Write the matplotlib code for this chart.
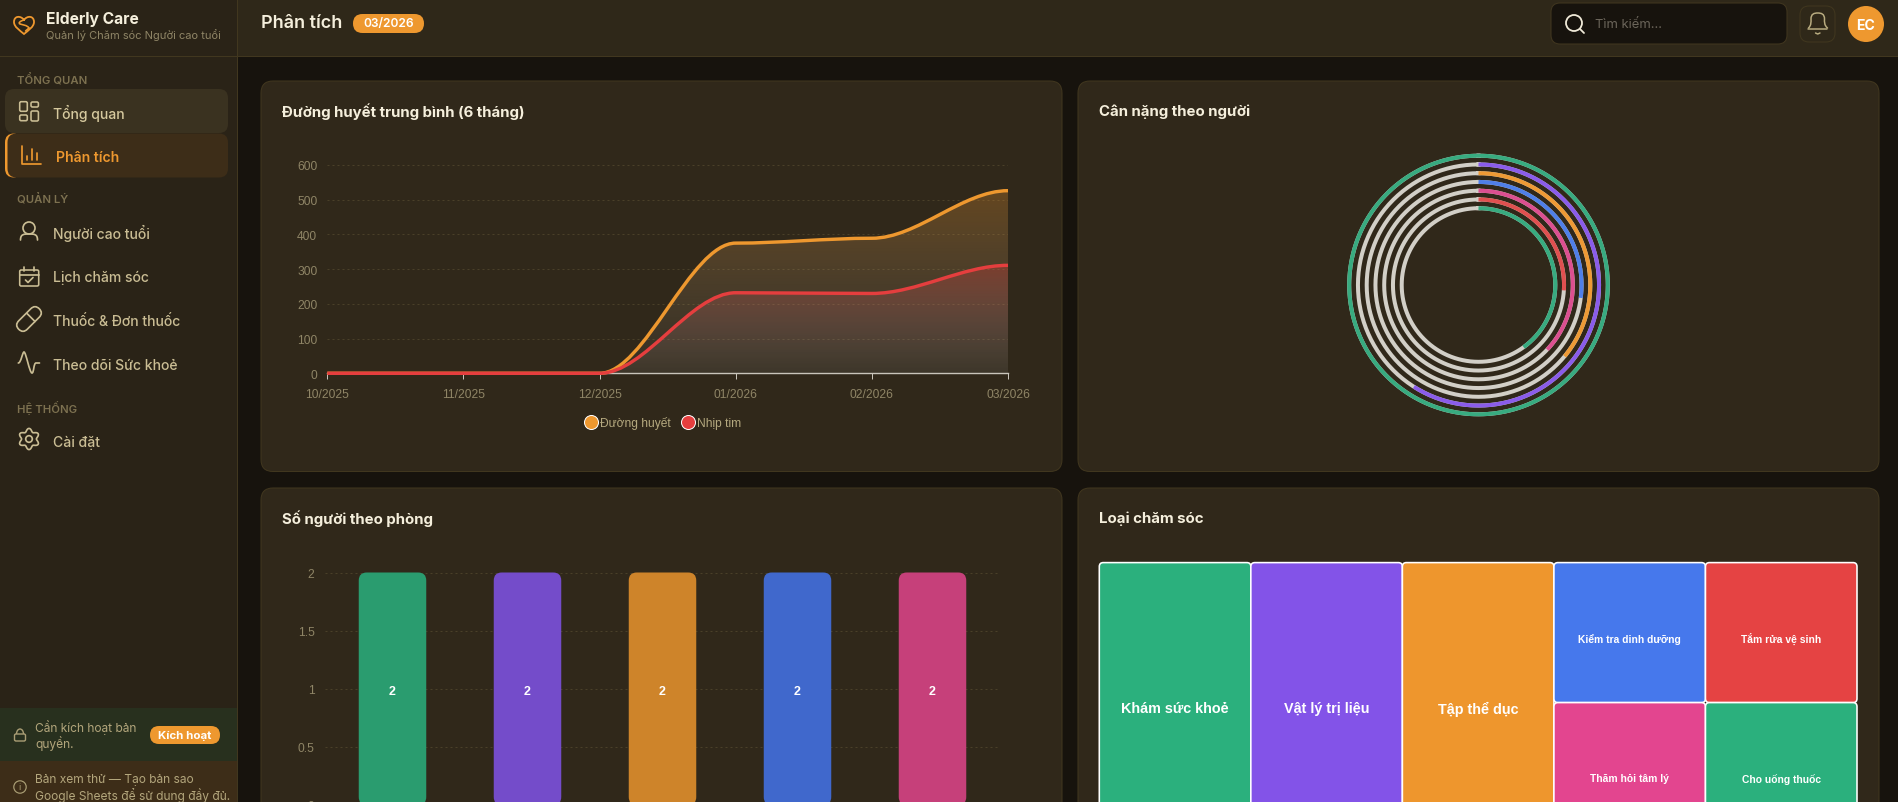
#!/usr/bin/env python3
# -*- coding: utf-8 -*-
import numpy as np
import matplotlib
matplotlib.use("Agg")
import matplotlib.pyplot as plt
from matplotlib.lines import Line2D
from matplotlib.patches import Circle, FancyBboxPatch, PathPatch, Arc, Polygon
from matplotlib.path import Path
from matplotlib.transforms import Affine2D

W, H = 1898, 803
PX = 0.72  # 1 px in pt at dpi 100

# line chart
months = ["10/2025", "11/2025", "12/2025", "01/2026", "02/2026", "03/2026"]
glucose = [0, 0, 0, 375, 389, 526]
heart_rate = [0, 0, 0, 232, 230, 311]
line_yticks = [0, 100, 200, 300, 400, 500, 600]

# radial chart, outer ring first, percent of the full circle
weight_pct = [100, 59, 36, 27, 37, 26, 40]
weight_colors = ["#38ab80", "#8a5cea", "#ee9a35", "#4f7fe8", "#dc4f90", "#e05050", "#38ab80"]

# bars
room_counts = [2, 2, 2, 2, 2]
room_colors = ["#2a9c6f", "#744cca", "#ce842a", "#4068cc", "#c6407a"]
bar_yticks = [0, 0.5, 1, 1.5, 2]

# treemap
care_types = ["Khám sức khoẻ", "Vật lý trị liệu", "Tập thể dục", "Kiểm tra dinh dưỡng",
              "Thăm hỏi tâm lý", "Tắm rửa vệ sinh", "Cho uống thuốc"]
care_counts = [2, 2, 2, 1, 1, 1, 1]
care_colors = ["#2bb07d", "#8353e8", "#ee962d", "#4678ec", "#e3458f", "#e54343", "#2bb07d"]

PAGE = "#17130d"
SIDE = "#2a2317"
HEAD = "#2f2819"
CARD = "#30281a"
EDGE = "#41371f"
ORANGE = "#ee982f"
RED = "#e53e3e"
NAV = "#cabd94"
MUTED = "#8f8566"
SECTION = "#7d7150"
TITLE = "#f5efdc"
CHART_FONT = ["Liberation Sans", "DejaVu Sans"]

plt.rcParams["font.family"] = ["Inter", "Noto Sans", "DejaVu Sans"]

fig = plt.figure(figsize=(W / 100, H / 100), dpi=100, facecolor=PAGE)
bg = fig.add_axes([0, 0, 1, 1])
bg.set_xlim(0, W)
bg.set_ylim(H, 0)
bg.axis("off")


def box(x0, y0, x1, y1, fc, ec="none", r=0, lw=1, z=1):
    style = f"round,pad=0,rounding_size={r}" if r else "square,pad=0"
    bg.add_patch(FancyBboxPatch((x0, y0), x1 - x0, y1 - y0, boxstyle=style, fc=fc, ec=ec,
                                lw=lw * PX, zorder=z))


def label(x, y, s, px, color, weight="normal", ha="left", family=None):
    kw = {"family": family} if family else {}
    bg.text(x, y, s, fontsize=px * PX, color=color, fontweight=weight, ha=ha, va="center",
            zorder=5, **kw)


def stroke(xs, ys, color=NAV, lw=1.7):
    bg.plot(xs, ys, color=color, lw=lw * PX, solid_capstyle="round", solid_joinstyle="round", zorder=4)


def ring(x, y, r, color=NAV, lw=1.7):
    bg.add_patch(Circle((x, y), r, fc="none", ec=color, lw=lw * PX, zorder=4))


def curve(verts, color=NAV, lw=1.7):
    codes = [Path.MOVETO] + [Path.CURVE4] * (len(verts) - 1)
    bg.add_patch(PathPatch(Path(verts, codes), fc="none", ec=color, lw=lw * PX, capstyle="round", zorder=4))


def outline(x0, y0, x1, y1, r=1.5, color=NAV, lw=1.6):
    box(x0, y0, x1, y1, "none", ec=color, r=r, lw=lw, z=4)


# page frame
box(0, 0, 237, H, SIDE)
box(0, 0, W, 57, HEAD)
box(0, 0, 237, 57, SIDE)
bg.plot([237, 237], [0, H], color=EDGE, lw=PX, zorder=2)
bg.plot([0, W], [57, 57], color=EDGE, lw=PX, zorder=2)

# brand
curve([(24, 21), (21, 16.5), (14, 16.5), (14, 23), (14, 28), (20, 31.5), (24, 35),
       (28, 31.5), (34, 28), (34, 23), (34, 16.5), (27, 16.5), (24, 21)], ORANGE, 1.8)
curve([(24, 21), (20, 22), (18, 24), (20, 25), (23, 26), (27, 26), (29, 29)], ORANGE, 1.6)
stroke([29, 25.5], [29, 32], ORANGE, 1.6)
label(46, 19.5, "Elderly Care", 15.6, TITLE, "bold")
label(46, 35, "Quản lý Chăm sóc Người cao tuổi", 11.1, MUTED)

# menu
box(5, 90, 228, 134, "#3a3220", r=9)
box(5, 134.5, 22, 178.5, ORANGE, r=9, z=1.1)
box(7.5, 134.5, 228, 178.5, "#3d2d18", r=9, z=1.2)
label(17, 80, "TỔNG QUAN", 11.3, SECTION, "semibold")
label(17, 200, "QUẢN LÝ", 11.3, SECTION, "semibold")
label(17, 408, "HỆ THỐNG", 11.3, SECTION, "semibold")
label(53, 113, "Tổng quan", 14, "#d6c99e", "medium")
label(56, 158, "Phân tích", 14, ORANGE, "semibold")
label(53, 233, "Người cao tuổi", 14, NAV, "medium")
label(53, 277.5, "Lịch chăm sóc", 14, NAV, "medium")
label(53, 322, "Thuốc & Đơn thuốc", 14, NAV, "medium")
label(53, 366, "Theo dõi Sức khoẻ", 14, NAV, "medium")
label(53, 442.5, "Cài đặt", 14, NAV, "medium")

# menu icons
for a in [(19.7, 102.7, 27.3, 112.3), (31, 103, 38.4, 108), (19.7, 116, 27.3, 121.7), (31, 112, 38.4, 122)]:
    outline(*a)
stroke([22.5, 22.5, 41.5], [147, 165, 165], ORANGE)
for x, top in [(27, 157), (32, 150), (37.5, 154)]:
    stroke([x, x], [top, 161], ORANGE)
ring(29, 229, 6)
curve([(20.5, 241), (20.5, 235), (24, 235), (29, 235), (34, 235), (37.5, 235), (37.5, 241)])
outline(19.7, 271, 38.7, 287)
stroke([19.7, 38.7], [275.5, 275.5])
stroke([24.5, 24.5], [268, 272])
stroke([34, 34], [268, 272])
stroke([25.5, 28, 33], [281, 283.5, 278.5])
bg.add_patch(FancyBboxPatch((14.5, 314), 29, 12, boxstyle="round,pad=0,rounding_size=6", fc="none", ec=NAV,
                            lw=1.7 * PX, zorder=4,
                            transform=Affine2D().rotate_deg_around(29, 320, -45) + bg.transData))
stroke([27, 35], [314.5, 322.5])
curve([(18.3, 364), (21, 364), (22.5, 353), (24, 353), (26, 353), (29.5, 374), (32, 374),
       (34, 374), (33.5, 364), (36, 364), (37, 364), (38.5, 364), (39.5, 364)])
theta = np.linspace(0, 2 * np.pi, 73)
gear_r = 9 + 1.6 * np.cos(6 * (theta + np.pi / 2))
bg.add_patch(Polygon(np.c_[29 + gear_r * np.cos(theta), 440 + gear_r * np.sin(theta)], closed=True, fc="none",
                     ec=NAV, lw=1.7 * PX, joinstyle="round", zorder=4))
ring(29, 440, 3.3)

# licence notes
box(0, 709, 237, 762, "#28301e")
box(0, 762, 237, H, "#3d2d18")
bg.plot([237, 237], [709, H], color=EDGE, lw=PX, zorder=2)
outline(14.5, 735, 25.5, 742, 1.5, "#a99d74", 1.4)
bg.add_patch(Arc((20, 735), 7, 10, theta1=180, theta2=360, ec="#a99d74", lw=1.4 * PX, zorder=4))
label(35, 728, "Cần kích hoạt bản", 12, "#b3a67c")
label(35, 744, "quyền.", 12, "#b3a67c")
box(150, 727, 220, 745, ORANGE, r=9, z=3)
label(185, 736, "Kích hoạt", 11.5, "white", "bold", "center")
ring(20, 788, 6.2, "#a99d74", 1.2)
label(20, 788, "i", 9, "#a99d74", "normal", "center")
label(35, 780, "Bản xem thử — Tạo bản sao", 12, "#b3a67c")
label(35, 796, "Google Sheets để sử dụng đầy đủ.", 12, "#b3a67c")

# header
label(261, 24, "Phân tích", 18, TITLE, "semibold")
box(353, 15, 424, 34, ORANGE, r=9.5, z=3)
label(388.5, 24.5, "03/2026", 12, "white", "semibold", "center")
box(1551, 4, 1787, 45, PAGE, ec=EDGE, r=9, z=3)
ring(1574, 24, 8, "#f0ead8", 1.8)
stroke([1580, 1584], [30, 34], "#f0ead8", 1.8)
label(1595, 24.5, "Tìm kiếm...", 13, "#6b655a")
box(1800, 7, 1835, 43, HEAD, ec=EDGE, r=9, z=3)
curve([(1808.5, 29), (1811.5, 26), (1811, 23), (1811, 20), (1811, 15), (1814, 14), (1817.7, 14),
       (1821.5, 14), (1824.5, 15), (1824.5, 20), (1824.5, 23), (1824, 26), (1827.5, 29)], "#b9ac80", 1.5)
stroke([1808.5, 1827.5], [29.5, 29.5], "#b9ac80", 1.5)
stroke([1815.5, 1817.7, 1820], [34, 35, 34], "#b9ac80", 1.5)
bg.add_patch(Circle((1866, 25), 18, fc=ORANGE, ec="none", zorder=3))
label(1866, 25.5, "EC", 14, "white", "bold", "center")

# cards
box(261, 82, 1062, 472.5, CARD, EDGE, 12, z=1)
box(1078, 82, 1879, 472.5, CARD, EDGE, 12, z=1)
box(261, 489, 1062, H + 40, CARD, EDGE, 12, z=1)
box(1078, 489, 1879, H + 40, CARD, EDGE, 12, z=1)
label(282, 112, "Đường huyết trung bình (6 tháng)", 15, TITLE, "bold")
label(1099, 112, "Cân nặng theo người", 15, TITLE, "bold")
label(282, 518.5, "Số người theo phòng", 15, TITLE, "bold")
label(1099, 518.5, "Loại chăm sóc", 15, TITLE, "bold")


def px_axes(x0, y0, x1, y1, **kw):
    ax = fig.add_axes([x0 / W, 1 - y1 / H, (x1 - x0) / W, (y1 - y0) / H], **kw)
    ax.patch.set_alpha(0)
    return ax


def smooth_path(xs, ys, closed=False):
    verts = [(xs[0], ys[0])]
    codes = [Path.MOVETO]
    for i in range(len(xs) - 1):
        dx = (xs[i + 1] - xs[i]) / 3
        verts += [(xs[i] + dx, ys[i]), (xs[i + 1] - dx, ys[i + 1]), (xs[i + 1], ys[i + 1])]
        codes += [Path.CURVE4] * 3
    if closed:
        verts += [(xs[-1], 0), (xs[0], 0), (xs[0], 0)]
        codes += [Path.LINETO, Path.LINETO, Path.CLOSEPOLY]
    return Path(verts, codes)


def gradient_area(ax, xs, ys, top_rgba, bottom_rgba, z):
    n = 128
    t = np.linspace(0, 1, n)[:, None, None]
    img = np.array(top_rgba)[None, None, :] * (1 - t) + np.array(bottom_rgba)[None, None, :] * t
    im = ax.imshow(img, extent=(xs[0], xs[-1], 0, max(ys)), aspect="auto", zorder=z, interpolation="bilinear")
    im.set_clip_path(PathPatch(smooth_path(xs, ys, closed=True), transform=ax.transData))


# line chart
ax = px_axes(327.3, 166, 1008, 374.3)
xs = list(range(len(months)))
gradient_area(ax, xs, glucose, (0.94, 0.59, 0.18, 0.28), (0.78, 0.78, 0.78, 0.04), 2)
gradient_area(ax, xs, heart_rate, (0.90, 0.24, 0.24, 0.30), (0.78, 0.78, 0.78, 0.06), 2.1)
ax.add_patch(PathPatch(smooth_path(xs, glucose), fc="none", ec=ORANGE, lw=3.4 * PX, clip_on=False, zorder=4))
ax.add_patch(PathPatch(smooth_path(xs, heart_rate), fc="none", ec=RED, lw=3.4 * PX, clip_on=False, zorder=4.1))
ax.set_xlim(0, len(months) - 1)
ax.set_ylim(0, 600)
ax.set_xticks(xs, months, family=CHART_FONT, fontsize=12 * PX, color=MUTED)
ax.set_yticks(line_yticks, [str(v) for v in line_yticks], family=CHART_FONT, fontsize=12 * PX, color=MUTED)
ax.tick_params(axis="x", length=6 * PX, width=PX, color="#c9c5bb", pad=9 * PX)
ax.tick_params(axis="y", length=0, pad=10 * PX)
ax.grid(axis="y", color="#4a4029", lw=PX, ls=(0, (2, 3)))
ax.set_axisbelow(True)
for name, sp in ax.spines.items():
    sp.set_visible(name == "bottom")
ax.spines["bottom"].set_color("#c9c5bb")
ax.spines["bottom"].set_linewidth(1.4 * PX)
handles = [Line2D([], [], ls="none", marker="o", ms=14 * PX, mfc=c, mec="white", mew=PX) for c in (ORANGE, RED)]
ax.legend(handles, ["Đường huyết", "Nhịp tim"], loc="center", bbox_to_anchor=((660 - 327.3) / 680.7, (374.3 - 423.7) / 208.3),
          ncol=2, frameon=False, handletextpad=-0.25, columnspacing=0.45, borderaxespad=0,
          prop={"family": CHART_FONT, "size": 12 * PX}, labelcolor="#b5a97f")

# radial chart
pax = px_axes(1478.5 - 135, 286 - 135, 1478.5 + 135, 286 + 135, projection="polar")
pax.set_theta_zero_location("N")
pax.set_theta_direction(-1)
pax.set_ylim(0, 135)
pax.axis("off")
for i, (pct, color) in enumerate(zip(weight_pct, weight_colors)):
    radius = 129.3 - 8.75 * i
    pax.plot(np.linspace(0, 2 * np.pi, 361), np.full(361, radius), color="#d2cfc7", lw=4 * PX, zorder=2)
    pax.plot(np.linspace(0, 2 * np.pi * pct / 100, 361), np.full(361, radius), color=color, lw=4 * PX,
             solid_capstyle="butt", zorder=3)

# bars
bax = px_axes(325, 573.5, 1000, 806)
bax.set_xlim(0, len(room_counts))
bax.set_ylim(0, 2)
for i, (v, c) in enumerate(zip(room_counts, room_colors)):
    bax.add_patch(FancyBboxPatch((i + 0.25, 0), 0.5, v, boxstyle=f"round,pad=0,rounding_size={8 / 135}",
                                 mutation_aspect=135 / 116.25, fc=c, ec="none", clip_on=False, zorder=3))
    bax.annotate(str(v), (i + 0.5, v / 2), xytext=(0, -2.5 * PX), textcoords="offset points", color="white",
                 fontsize=12.5 * PX, fontweight="bold", family=CHART_FONT, ha="center", va="center", zorder=4)
bax.set_yticks(bar_yticks, [f"{v:g}" for v in bar_yticks], family=CHART_FONT, fontsize=12 * PX, color=MUTED)
bax.set_xticks([])
bax.tick_params(axis="y", length=0, pad=10.5 * PX)
bax.grid(axis="y", color="#4a4029", lw=PX, ls=(0, (2, 3)))
bax.set_axisbelow(True)
for sp in bax.spines.values():
    sp.set_visible(False)

# treemap, big items take a column, small ones share a column
tax = px_axes(1099.3, 563.6, 1857, 843.6)
total = sum(care_counts)
col_w = max(care_counts) / total
tax.set_xlim(0, 1)
tax.set_ylim(max(care_counts), 0)
tax.axis("off")
aspect = 757.7 / 140
x, y = 0, 0
for name, v, c in zip(care_types, care_counts, care_colors):
    tax.add_patch(FancyBboxPatch((x, y), col_w, v, boxstyle=f"round,pad=0,rounding_size={4 / 757.7}",
                                 mutation_aspect=aspect, fc=c, ec="white", lw=1.6 * PX, clip_on=False, zorder=2))
    big = v == max(care_counts)
    tax.text(x + col_w / 2, y + v / 2 + 5.5 / 140, name, color="white", fontweight="bold", family=CHART_FONT,
             fontsize=(14.4 if big else 10.2) * PX, ha="center", va="center", zorder=3)
    y += v
    if y >= max(care_counts):
        x, y = x + col_w, 0

fig.savefig("out.png", dpi=100, facecolor=fig.get_facecolor())
